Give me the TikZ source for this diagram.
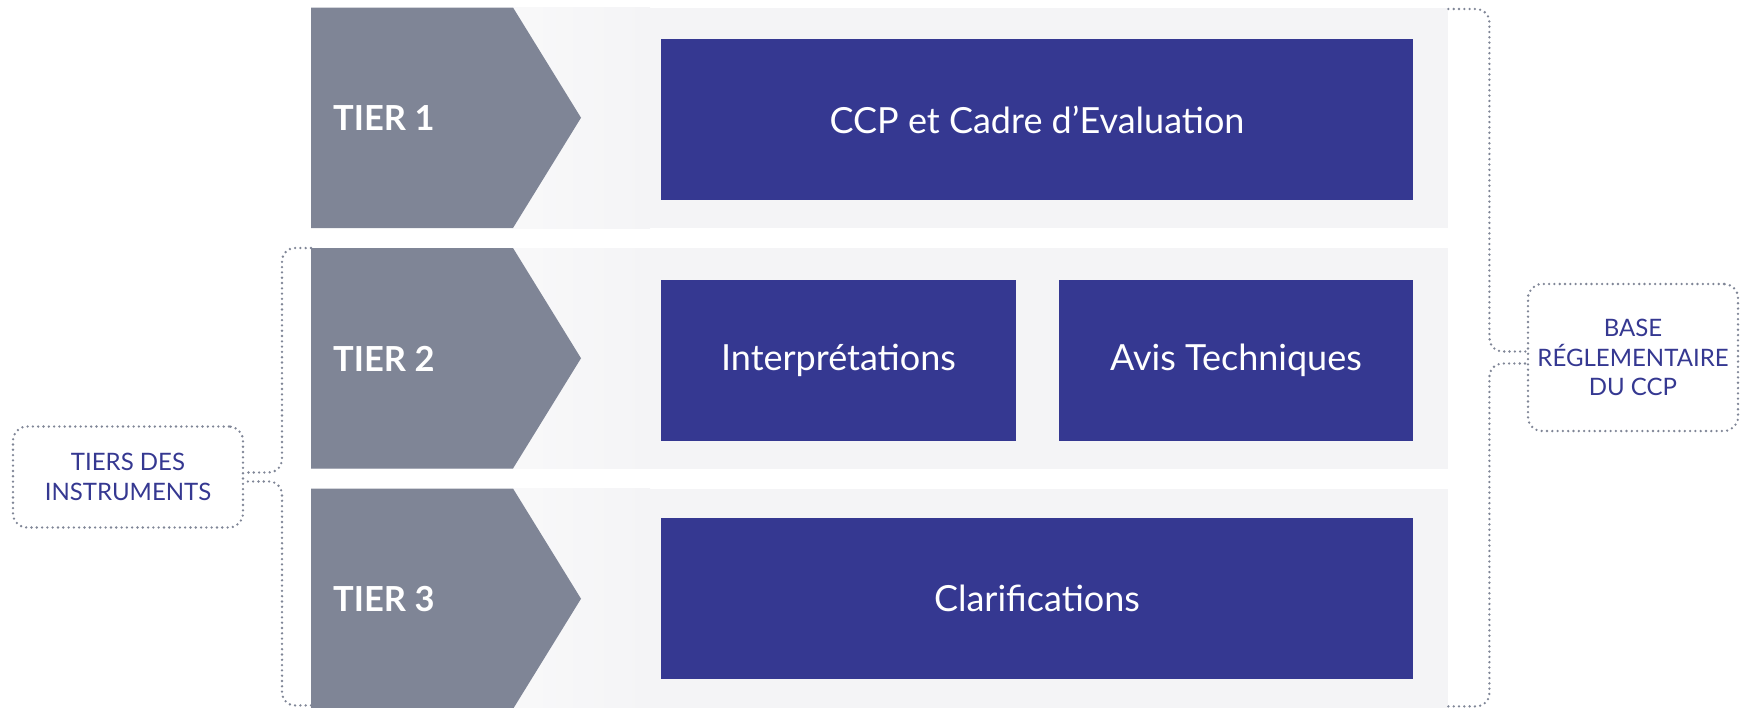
\documentclass[tikz,border=0pt]{standalone}
\usepackage{fontspec}
\setmainfont{Lato}

\definecolor{tiergrey}{RGB}{127,133,150}
\definecolor{tierblue}{RGB}{53,56,145}
\definecolor{rowgrey}{RGB}{244,244,246}
\newcommand{\rowh}{220.5pt}

\begin{document}
\begin{tikzpicture}[x=1pt, y=-1pt,
    row/.style={rectangle, anchor=north west, fill=rowgrey, minimum width=1137pt, minimum height=\rowh, inner sep=0pt},
    tierlabel/.style={anchor=west, text=white, inner sep=0pt, font=\fontsize{34.5}{40}\selectfont\bfseries},
    item/.style={rectangle, fill=tierblue, text=white, minimum height=161pt, inner sep=0pt, font=\fontsize{36}{42}\selectfont},
    note/.style={rectangle, draw=tiergrey, line width=2.6pt, dash pattern=on 0pt off 5.3pt, line cap=round, rounded corners=14pt, text=tierblue, align=center, inner sep=0pt, font=\fontsize{24}{29.5}\selectfont},
    dots/.style={draw=tiergrey, line width=2.6pt, dash pattern=on 0pt off 5.3pt, line cap=round, rounded corners=13pt}]
    \useasboundingbox (0,0) rectangle (1740,707);

    % Rows
    \node[row] (row-1) at (311,7.5) {};
    \node[row] (row-2) at (311,248) {};
    \node[row] (row-3) at (311,488.5) {};

    \shade[left color=white, right color=rowgrey] (row-1.north west) ++(202,0) rectangle ++(137,220.5);
    \shade[left color=white, right color=rowgrey] (row-2.north west) ++(202,0) rectangle ++(137,220.5);
    \shade[left color=white, right color=rowgrey] (row-3.north west) ++(202,0) rectangle ++(137,220.5);

    % Tabs
    \fill[tiergrey] (row-1.north west) -- ++(202,0) -- ++(68,110.25) -- ++(-68,110.25) -- ++(-202,0) -- cycle;
    \fill[tiergrey] (row-2.north west) -- ++(202,0) -- ++(68,110.25) -- ++(-68,110.25) -- ++(-202,0) -- cycle;
    \fill[tiergrey] (row-3.north west) -- ++(202,0) -- ++(68,110.25) -- ++(-68,110.25) -- ++(-202,0) -- cycle;

    \node[tierlabel] (tier-1) at ([xshift=22pt]row-1.west) {TIER 1};
    \node[tierlabel] (tier-2) at ([xshift=22pt]row-2.west) {TIER 2};
    \node[tierlabel] (tier-3) at ([xshift=22pt]row-3.west) {TIER 3};

    % Instruments
    \node[item, minimum width=752pt] (ccp) at (1037,119.5) {CCP et Cadre d’Evaluation};
    \node[item, minimum width=355pt] (interp) at (838.5,360.5) {Interprétations};
    \node[item, minimum width=354pt] (avis) at (1236,360.5) {Avis Techniques};
    \node[item, minimum width=752pt] (clarif) at (1037,598.5) {Clarifications};

    % Notes
    \node[note, minimum width=230pt, minimum height=101pt] (tiers) at (128,477) {TIERS DES\\INSTRUMENTS};
    \node[note, minimum width=210pt, minimum height=147pt] (base) at (1633,357.5) {BASE\\RÉGLEMENTAIRE\\DU CCP};

    % Brackets
    \draw[dots] (row-2.north west) -- ++(-29,0) |- ([yshift=4.5pt]tiers.east);
    \draw[dots] (row-3.south west) ++(0,-4) -- ++(-29,0) |- ([yshift=-4.5pt]tiers.east);
    \draw[dots] (row-1.north east) ++(0,1.5) -- ++(41,0) |- ([yshift=6pt]base.west);
    \draw[dots] (row-3.south east) ++(0,-3) -- ++(41,0) |- ([yshift=-6pt]base.west);
\end{tikzpicture}
\end{document}
